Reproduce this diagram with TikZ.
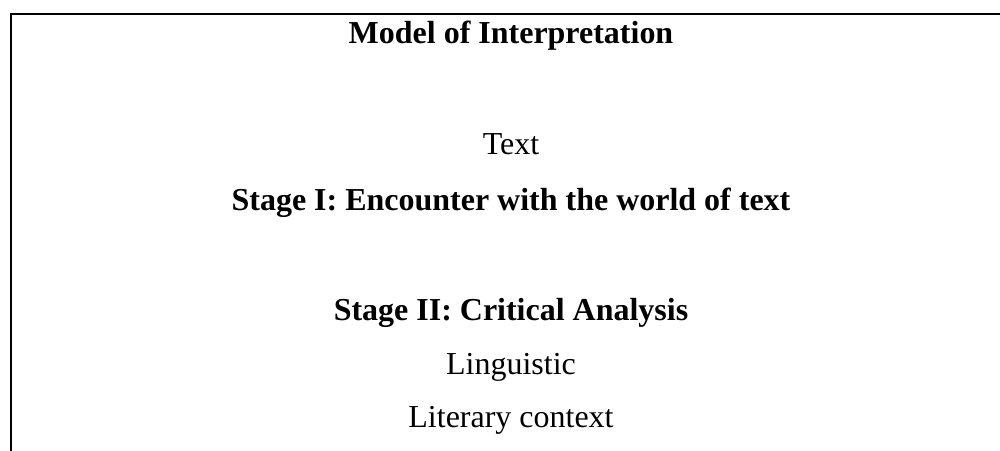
\documentclass[tikz,border=0pt]{standalone}
\usepackage{fontspec}
\setmainfont{Liberation Serif}
\usepackage{tikz}

\begin{document}
\begin{tikzpicture}
        \tikzstyle{label} = [anchor=base, inner sep=0pt, font=\fontsize{18.2}{22}\selectfont]
        \tikzstyle{heading} = [label, font=\fontsize{18.2}{22}\selectfont\bfseries]
        \useasboundingbox (0,0) rectangle (20,-9);
        \draw[line width=1.1pt] (0.22,-9.1) -- (0.22,-0.28) -- (20.1,-0.28);
        \node[heading] (title) at (10.22,-0.86) {Model of Interpretation};
        \node[label] (text) at (10.22,-3.08) {Text};
        \node[heading] (stageone) at (10.22,-4.20) {Stage I: Encounter with the world of text};
        \node[heading] (stagetwo) at (10.22,-6.40) {Stage II: Critical Analysis};
        \node[label] (ling) at (10.22,-7.48) {Linguistic};
        \node[label] (lit) at (10.22,-8.54) {Literary context};
    \end{tikzpicture}
\end{document}
